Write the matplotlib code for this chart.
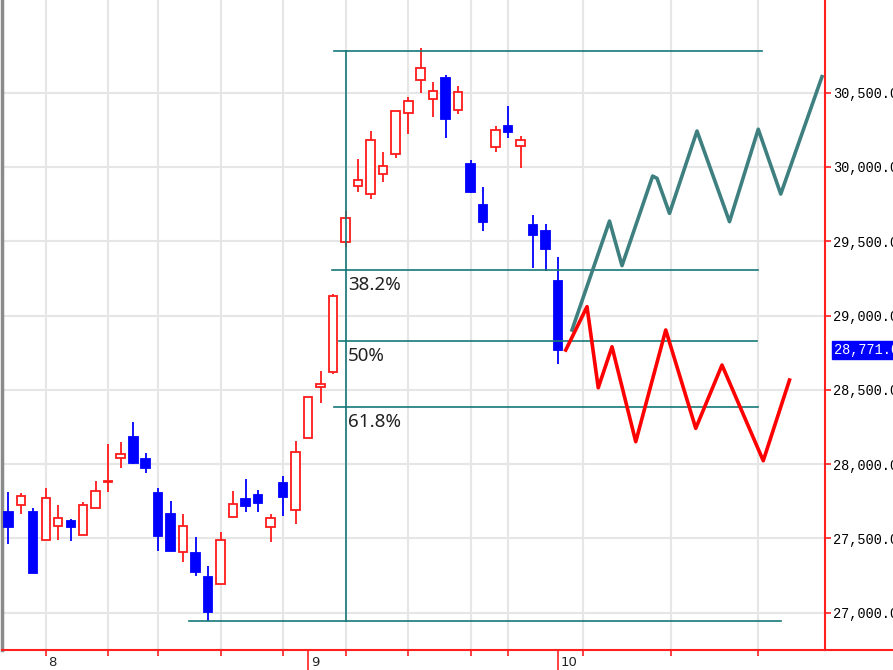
import matplotlib.pyplot as plt
from matplotlib.patches import Rectangle
from matplotlib.lines import Line2D
from matplotlib.transforms import blended_transform_factory

# candle data (one bar per index)
opens = [27676, 27723, 27676, 27487, 27581, 27617, 27521, 27705, 27878, 28043,
         28180, 28036, 27804, 27666, 27408, 27400, 27238, 27191, 27644, 27767,
         27792, 27579, 27871, 27691, 28178, 28521, 28620, 29497, 29874, 29816,
         29951, 30085, 30365, 30583, 30456, 30602, 30384, 30022, 29746, 30137,
         30276, 30139, 29612, 29567, 29233]
highs = [27810, 27804, 27703, 27837, 27725, 27633, 27743, 27886, 28133, 28147,
         28281, 28073, 27837, 27752, 27666, 27507, 27314, 27541, 27819, 27898,
         27828, 27666, 27920, 28156, 28454, 28629, 29145, 29704, 30052, 30244,
         30099, 30380, 30469, 30799, 30570, 30619, 30545, 30047, 29865, 30276,
         30412, 30207, 29679, 29618, 29392]
lows = [27460, 27662, 27265, 27487, 27487, 27485, 27521, 27705, 27810, 27972,
        27999, 27938, 27415, 27415, 27343, 27249, 26942, 27191, 27644, 27678,
        27678, 27476, 27653, 27595, 28178, 28409, 28605, 29463, 29832, 29782,
        29899, 30058, 30220, 30500, 30334, 30193, 30357, 29827, 29571, 30103,
        30193, 29993, 29318, 29302, 28672]
closes = [27577, 27783, 27270, 27774, 27639, 27577, 27723, 27817, 27885, 28070,
          28005, 27972, 27516, 27417, 27581, 27274, 27003, 27489, 27734, 27720,
          27738, 27639, 27779, 28084, 28450, 28537, 29132, 29659, 29912, 30182,
          30007, 30375, 30442, 30668, 30511, 30321, 30503, 29832, 29630, 30249,
          30237, 30182, 29540, 29448, 28771]
last_price = 28771

# projected scenarios
bull_x = [45.1, 48.1, 49.1, 51.55, 51.9, 52.9, 55.1, 57.7, 60.0, 61.8, 65.1]
bull_y = [28903, 29636, 29336, 29939, 29924, 29688, 30242, 29632, 30254, 29818, 30608]
bear_x = [44.6, 46.3, 47.2, 48.3, 50.2, 52.6, 55.0, 57.1, 60.4, 62.5]
bear_y = [28768, 29060, 28514, 28790, 28151, 28903, 28241, 28667, 28023, 28566]

# fibonacci retracement lines
fib_levels = [30783, 29305, 28829, 28382, 26944]
fib_start = [26.1, 25.9, 26.5, 26.1, 14.5]
fib_end = [60.3, 60.0, 59.9, 60.0, 61.8]
fib_labels = ['', '38.2%', '50%', '61.8%', '']
fib_anchor = 27

grid_x = [3, 8, 12, 17, 22, 27, 32, 37, 40, 46, 53, 60]
day_x = [3, 24, 44]
day_labels = ['8', '9', '10']
price_ticks = list(range(27000, 31000, 500))

W, H = 893, 670
fig = plt.figure(figsize=(W / 100, H / 100), dpi=100)
ax = fig.add_axes([2 / W, 20 / H, 823 / W, 650 / H])
ax.set_xlim(-0.5, 65.34)
ax.set_ylim(26749, 31124)

# grid
for v in price_ticks:
    ax.axhline(v, color='#e6e6e6', lw=1.5, zorder=0)
for x in grid_x:
    ax.axvline(x, color='#e6e6e6', lw=1.5, zorder=0)

# candles
bw = 0.68
for i, (o, h, l, c) in enumerate(zip(opens, highs, lows, closes)):
    up = c >= o
    col = '#ff1a1a' if up else '#0000ff'
    ax.vlines(i, l, h, color=col, lw=1.3, zorder=2)
    bottom = min(o, c)
    height = max(abs(c - o), 6)
    ax.add_patch(Rectangle((i - bw / 2, bottom), bw, height,
                           facecolor='white' if up else col,
                           edgecolor=col, lw=1.3, zorder=3))

# fib tool
teal = '#167878'
for lvl, x0, x1, lab in zip(fib_levels, fib_start, fib_end, fib_labels):
    ax.plot([x0, x1], [lvl, lvl], color=teal, lw=1.2, zorder=4)
    if lab:
        ax.annotate(lab, (fib_anchor + 0.18, lvl), xytext=(0, -4),
                    textcoords='offset points', va='top', ha='left',
                    fontsize=13.5, family='Noto Sans', color='#222222')
ax.plot([fib_anchor, fib_anchor], [fib_levels[-1], fib_levels[0]],
        color=teal, lw=1.2, zorder=4)

# scenario lines
ax.plot(bull_x, bull_y, color='#3e7f80', lw=2.6, zorder=5)
ax.plot(bear_x, bear_y, color='#ff0000', lw=2.6, zorder=5)

# axes styling
ax.spines['top'].set_visible(False)
ax.spines['left'].set_color('#8a8a8a')
ax.spines['left'].set_linewidth(2.5)
ax.spines['bottom'].set_color('#ff2020')
ax.spines['right'].set_color('#ff2020')
ax.spines['bottom'].set_linewidth(1.5)
ax.spines['right'].set_linewidth(1.5)
fig.add_artist(Line2D([825 / W, 1], [20 / H, 20 / H], color='#ff2020', lw=1.5))

ax.yaxis.tick_right()
ax.set_yticks(price_ticks)
ax.set_yticklabels([f'{v:,.1f}' for v in price_ticks])
ax.tick_params(axis='y', direction='out', length=4, width=1.2, color='#ff2020',
               labelsize=9.8, pad=1.5)
for t in ax.get_yticklabels():
    t.set_family('Liberation Mono')

ax.set_xticks(grid_x)
ax.set_xticklabels([])
ax.set_xticks(day_x, minor=True)
ax.tick_params(axis='x', which='major', direction='out', length=4, width=1.2,
               color='#ff2020')
ax.tick_params(axis='x', which='minor', direction='out', length=15, width=1.2,
               color='#ff2020')

tr = blended_transform_factory(ax.transData, fig.transFigure)
for x, lab in zip(day_x, day_labels):
    ax.text(x + 0.22, 1 / H, lab, transform=tr, ha='left', va='bottom',
            fontsize=9.5, family='DejaVu Sans', color='#222222')

# last price tag
tr2 = blended_transform_factory(ax.transAxes, ax.transData)
ax.text(1.011, last_price, f'{last_price:,.1f}', transform=tr2, ha='left',
        va='center', fontsize=9.8, family='Liberation Mono', color='white',
        bbox=dict(boxstyle='square,pad=0.15', facecolor='#0000ff',
                  edgecolor='#0000ff'), clip_on=False)

fig.savefig('out.png', dpi=100)
